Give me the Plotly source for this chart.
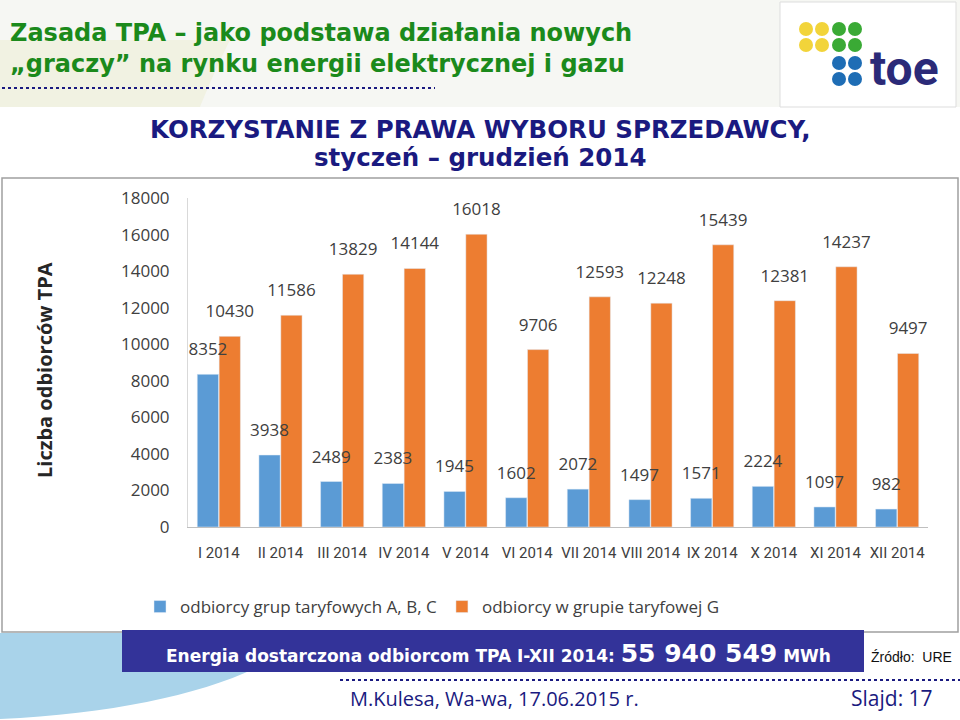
import plotly.graph_objects as go

W, H = 960, 720

months = ["I 2014", "II 2014", "III 2014", "IV 2014", "V 2014", "VI 2014",
          "VII 2014", "VIII 2014", "IX 2014", "X 2014", "XI 2014", "XII 2014"]
abc_values = [8352, 3938, 2489, 2383, 1945, 1602, 2072, 1497, 1571, 2224, 1097, 982]
g_values = [10430, 11586, 13829, 14144, 16018, 9706, 12593, 12248, 15439, 12381, 14237, 9497]
series_names = ["odbiorcy grup taryfowych A, B, C", "odbiorcy w grupie taryfowej G"]
y_ticks = [0, 2000, 4000, 6000, 8000, 10000, 12000, 14000, 16000, 18000]

BLUE = "#5B9BD5"
ORANGE = "#ED7D31"
NAVY = "#1A1A80"
CHART_FONT = "Open Sans, sans-serif"
TICK_FONT = "Roboto, sans-serif"


def px(x):
    return x / W


def py(y):
    return 1 - y / H


idx = list(range(len(months)))
BAR_W = 0.345
OFF_G = 0.005
OFF_ABC = -0.35

fig = go.Figure()
fig.add_trace(go.Bar(x=idx, y=g_values, name=series_names[1], marker_color=ORANGE,
                     width=BAR_W, offset=OFF_G, hoverinfo="skip"))
fig.add_trace(go.Bar(x=idx, y=abc_values, name=series_names[0], marker_color=BLUE,
                     width=BAR_W, offset=OFF_ABC, hoverinfo="skip"))
# value labels drawn on top of all bars
for vals, off in ((g_values, OFF_G), (abc_values, OFF_ABC)):
    fig.add_trace(go.Scatter(x=[i + off + BAR_W / 2 for i in idx], y=vals,
                             mode="markers+text", text=[str(v) for v in vals],
                             textposition="top center", cliponaxis=False,
                             marker=dict(size=22, opacity=0), showlegend=False, hoverinfo="skip",
                             textfont=dict(size=17, color="#404040", family=CHART_FONT)))

shapes = []
# top title background
shapes.append(dict(type="rect", xref="paper", yref="paper", x0=0, x1=1, y0=py(107), y1=1,
                   fillcolor="#F6F7F3", line_width=0, layer="below"))
shapes.append(dict(type="path", xref="paper", yref="paper",
                   path=f"M {px(0)},{py(40)} L {px(230)},{py(40)} C {px(215)},{py(70)} {px(205)},{py(95)} {px(200)},{py(107)} L {px(0)},{py(107)} Z",
                   fillcolor="#F1F2E2", line_width=0, layer="below"))
# logo box
shapes.append(dict(type="rect", xref="paper", yref="paper", x0=px(780), x1=px(956), y0=py(107), y1=py(2),
                   fillcolor="white", line=dict(color="#DDDDDD", width=1), layer="below"))
# dotted line under title
shapes.append(dict(type="line", xref="paper", yref="paper", x0=px(2), x1=px(435), y0=py(88), y1=py(88),
                   line=dict(color=NAVY, width=2, dash="dot")))
# chart box
shapes.append(dict(type="rect", xref="paper", yref="paper", x0=px(2), x1=px(958), y0=py(632), y1=py(178),
                   fillcolor="white", line=dict(color="#A0A0A0", width=1.5), layer="below"))
# light blue curve bottom-left
shapes.append(dict(type="path", xref="paper", yref="paper",
                   path=f"M {px(0)},{py(633)} L {px(310)},{py(633)} C {px(260)},{py(680)} {px(150)},{py(712)} {px(0)},{py(719)} Z",
                   fillcolor="#A9D3EA", line_width=0, layer="below"))
# blue energy box
shapes.append(dict(type="rect", xref="paper", yref="paper", x0=px(122), x1=px(864), y0=py(672), y1=py(630),
                   fillcolor="#333399", line_width=0))
# dotted footer line
shapes.append(dict(type="line", xref="paper", yref="paper", x0=px(340), x1=px(960), y0=py(680), y1=py(680),
                   line=dict(color=NAVY, width=2, dash="dot")))
# logo dots
dot_r = 7
dots = [(806, 29, "#F2D43A"), (822, 29, "#F2D43A"), (806, 45, "#F2D43A"), (822, 45, "#F2D43A"),
        (839, 29, "#3AAA35"), (855, 29, "#3AAA35"), (839, 45, "#3AAA35"), (855, 45, "#3AAA35"),
        (839, 63, "#1E6DB5"), (855, 63, "#1E6DB5"), (839, 79, "#1E6DB5"), (855, 79, "#1E6DB5")]
for cx, cy, c in dots:
    shapes.append(dict(type="circle", xref="paper", yref="paper",
                       x0=px(cx - dot_r), x1=px(cx + dot_r), y0=py(cy + dot_r), y1=py(cy - dot_r),
                       fillcolor=c, line_width=0))

annotations = []


def ann(text, x, y, size, color, family, xanchor="left", yanchor="middle", **kw):
    annotations.append(dict(text=text, x=px(x), y=py(y), xref="paper", yref="paper",
                            showarrow=False, xanchor=xanchor, yanchor=yanchor,
                            font=dict(size=size, color=color, family=family), **kw))


TITLE_FONT = "DejaVu Sans, Verdana, sans-serif"
ann("<b>Zasada TPA – jako podstawa działania nowych</b>", 8, 33, 24, "#1B8A1B", TITLE_FONT)
ann("<b>„graczy” na rynku energii elektrycznej i gazu</b>", 8, 64, 24, "#1B8A1B", TITLE_FONT)
ann("<b>toe</b>", 904, 68, 48, "#2B2A78", "Roboto, sans-serif", xanchor="center")
ann("<b>KORZYSTANIE Z PRAWA WYBORU SPRZEDAWCY,</b>", 480, 129, 24.5, NAVY, TITLE_FONT, xanchor="center")
ann("<b>styczeń – grudzień 2014</b>", 480, 157, 24.5, NAVY, TITLE_FONT, xanchor="center")
ann("<b>Liczba odbiorców TPA</b>", 45, 370, 20, "#262626", "Open Sans, sans-serif",
    xanchor="center", textangle=-90)
ann("<b>Energia dostarczona odbiorcom TPA I-XII 2014: </b><b><span style='font-size:25px'>55 940 549</span></b><b> MWh</b>",
    164, 653, 17, "white", TITLE_FONT)
ann("Źródło:  URE", 869, 657, 14, "#111111", "Liberation Sans, Arial, sans-serif")
ann("M.Kulesa, Wa-wa, 17.06.2015 r.", 348, 698, 20, NAVY, "Open Sans, sans-serif")
ann("Slajd: 17", 849, 698, 21, NAVY, "Open Sans, sans-serif")

fig.update_layout(
    width=W, height=H,
    margin=dict(l=0, r=0, t=0, b=0),
    paper_bgcolor="white", plot_bgcolor="rgba(0,0,0,0)",
    barmode="overlay",
    showlegend=True,
    legend=dict(orientation="h", x=px(140), y=py(607), xanchor="left", yanchor="middle",
                font=dict(size=17, color="#404040", family=CHART_FONT),
                bgcolor="rgba(0,0,0,0)", traceorder="reversed"),
    xaxis=dict(domain=[px(188), px(928)], range=[-0.5, len(months) - 0.5],
               tickvals=idx, ticktext=months, tickangle=0, automargin=False,
               showline=True, linecolor="#BFBFBF", linewidth=1, showgrid=False, zeroline=False,
               ticks="", ticklabelstandoff=12,
               tickfont=dict(size=15, color="#404040", family=TICK_FONT)),
    yaxis=dict(domain=[py(527), py(198)], range=[0, 18000], tickvals=y_ticks,
               ticktext=[str(v) for v in y_ticks], automargin=False,
               showgrid=False, zeroline=False, showline=True, linecolor="#D9D9D9", linewidth=1,
               ticks="", ticklabelstandoff=14,
               tickfont=dict(size=17, color="#404040", family=CHART_FONT)),
    shapes=shapes,
    annotations=annotations,
)

fig.write_html("out.html", config={"displayModeBar": False},
               post_script="document.body.style.margin='0';document.body.style.overflow='hidden';")
